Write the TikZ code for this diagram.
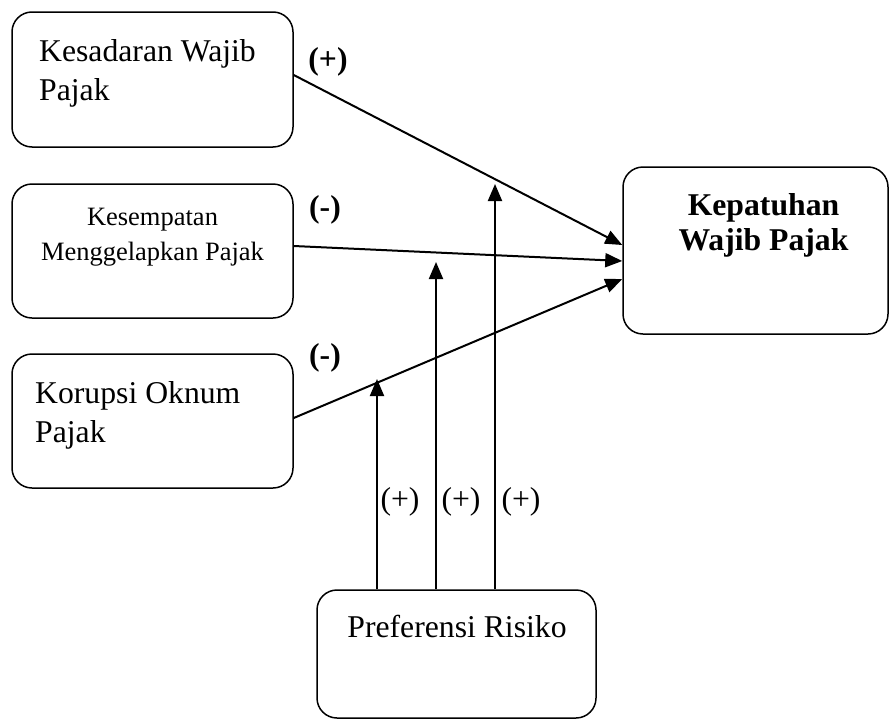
\documentclass[tikz,border=0pt]{standalone}
\usepackage{fontspec}
\setmainfont{Liberation Serif}
\usetikzlibrary{arrows.meta}
\begin{document}
\begin{tikzpicture}[x=1pt,y=-1pt]
\tikzstyle{bx}=[draw=black,rounded corners=20pt,line width=1.5pt,inner sep=0pt]
\tikzstyle{tx}=[inner sep=0pt,font=\fontsize{31.7}{39}\selectfont]
\tikzstyle{ar}=[draw=black,line width=2pt,-{Triangle[length=17pt,width=14pt]}]
\tikzstyle{lb}=[inner sep=0pt,font=\fontsize{31.7}{39}\selectfont]
\tikzstyle{lbb}=[inner sep=0pt,font=\fontsize{31.7}{39}\selectfont\bfseries]
\useasboundingbox (0,0) rectangle (891,720);
% boxes
\node [bx,minimum width=281pt,minimum height=135pt] (kwp) at (152.5,79.5) {};
\node [bx,minimum width=281pt,minimum height=134pt] (kmp) at (152.5,251) {};
\node [bx,minimum width=281pt,minimum height=134pt] (kop) at (152.5,421) {};
\node [bx,minimum width=265pt,minimum height=167pt] (kep) at (755.5,250.5) {};
\node [bx,minimum width=279pt,minimum height=128pt] (pr) at (456.5,654) {};
% texts (base = last line)
\node [tx,align=left,anchor=base west] (kwpt) at (39,100) {Kesadaran Wajib\\Pajak};
\node [tx,font=\fontsize{26.5}{35}\selectfont,align=center,anchor=base] (kmpt) at (152.5,260) {Kesempatan\\Menggelapkan Pajak};
\node [tx,align=left,anchor=base west] (kopt) at (35,442) {Korupsi Oknum\\Pajak};
\node [tx,font=\fontsize{31.7}{35}\selectfont\bfseries,align=center,anchor=base] (kept) at (763.5,250) {Kepatuhan\\Wajib Pajak};
\node [tx,anchor=base] (prt) at (457,637) {Preferensi Risiko};
% direct paths
\draw [ar] ([yshift=4.5pt]kwp.east) -- ([yshift=5.5pt]kep.west);
\draw [ar] ([yshift=5pt]kmp.east) -- ([yshift=-10.5pt]kep.west);
\draw [ar] ([yshift=3pt]kop.east) -- ([yshift=-28.5pt]kep.west);
% moderation
\coordinate (m1) at (377,379);
\coordinate (m2) at (436,262);
\coordinate (m3) at (495,184);
\draw [ar] (m1 |- pr.north) -- (m1);
\draw [ar] (m2 |- pr.north) -- (m2);
\draw [ar] (m3 |- pr.north) -- (m3);
% signs
\node [lbb] (s1) at (328,62) {(+)};
\node [lbb] (s2) at (325,210) {(-)};
\node [lbb] (s3) at (325,358) {(-)};
\node [lb] (s4) at (400,502) {(+)};
\node [lb] (s5) at (461,502) {(+)};
\node [lb] (s6) at (521,502) {(+)};
\end{tikzpicture}
\end{document}
